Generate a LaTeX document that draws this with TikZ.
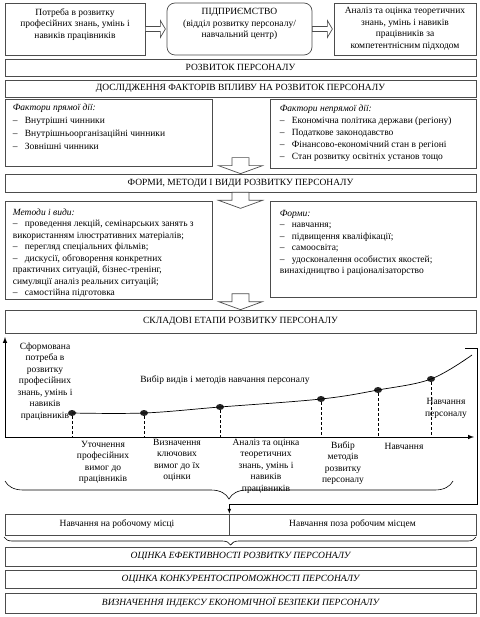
\documentclass[tikz,border=0pt]{standalone}
\usepackage{fontspec}
\setmainfont{Liberation Serif}
\usetikzlibrary{arrows, positioning, calc, shapes.geometric, decorations.pathreplacing}
\newcommand{\itm}{\makebox[12pt][l]{--}}
\newcommand{\rarrow}[1]{\draw[blockarrow] (#1) ++(0,-2.5) -- ++(15,0) -- ++(0,-6) -- ++(5,8.5) -- ++(-5,8.5) -- ++(0,-6) -- ++(-15,0) -- cycle;}
\newcommand{\darrow}[1]{\draw[blockarrow] (#1) -- ++(-22,-8) -- ++(13.5,0) -- ++(0,-8) -- ++(17,0) -- ++(0,8) -- ++(13.5,0) -- cycle;}
\begin{document}
\begin{tikzpicture}[x=1pt, y=-1pt,
  font=\fontsize{9.5}{11.5}\selectfont,
  box/.style={rectangle, draw=black!70, line width=0.7pt, fill=white, inner sep=0pt, align=center},
  band/.style={box, minimum width=471, minimum height=#1},
  listbox/.style={box, minimum width=207},
  listtext/.style={anchor=north west, inner sep=0pt, align=left},
  lbl/.style={inner sep=0pt, align=center},
  blockarrow/.style={draw=black!70, line width=0.7pt, fill=white, line join=miter},
  dot/.style={ellipse, fill=black!85, minimum width=8, minimum height=6, inner sep=0pt},
  axis/.style={->, >=latex, line width=1pt},
  curve/.style={line width=0.7pt},
  dashline/.style={line width=0.5pt, dash pattern=on 3pt off 2pt},
  connector/.style={->, >=latex, line width=0.7pt},
  curly/.style={decorate, line width=0.6pt, decoration={brace, mirror, amplitude=#1}}
]
\useasboundingbox (0,0) rectangle (479,617);
\node[box, minimum width=140, minimum height=52] (need) at (75,29) {Потреба в розвитку\\професійних знань, умінь і\\навиків працівників\\\mbox{}};
\node[box, minimum width=145, minimum height=52, rounded corners=8pt] (firm) at (239.5,29) {ПІДПРИЄМСТВО\\(відділ розвитку персоналу/\\навчальний центр)\\\mbox{}};
\node[box, minimum width=142, minimum height=52] (anal) at (405,29) {Аналіз та оцінка теоретичних\\знань, умінь і навиків\\працівників за\\компетентнісним підходом};
\rarrow{need.east}
\rarrow{firm.east}
\node[band=17] (rozv) at (240.5,67.5) {РОЗВИТОК ПЕРСОНАЛУ};
\node[band=17] (dosl) at (240.5,88.5) {ДОСЛІДЖЕННЯ ФАКТОРІВ ВПЛИВУ НА РОЗВИТОК ПЕРСОНАЛУ};
\node[listbox, minimum height=67] (direct) at (108.5,132.5) {};
\node[listtext, font=\fontsize{9.5}{13}\selectfont] (direct text) at ($(direct.north west)+(8,5)$) {\textit{Фактори прямої дії:}\\\itm Внутрішні чинники\\\itm Внутрішньоорганізаційні чинники\\\itm Зовнішні чинники};
\node[listbox, minimum width=206, minimum height=69] (indirect) at (373,133.5) {};
\node[listtext, font=\fontsize{9.5}{12}\selectfont] (indirect text) at ($(indirect.north west)+(10,6)$) {\textit{Фактори непрямої дії:}\\\itm Економічна політика держави (регіону)\\\itm Податкове законодавство\\\itm Фінансово-економічний стан в регіоні\\\itm Стан розвитку освітніх установ тощо};
\node[band=18] (formy) at (240.5,183) {ФОРМИ, МЕТОДИ І ВИДИ РОЗВИТКУ ПЕРСОНАЛУ};
\darrow{formy.north}
\node[listbox, minimum height=98] (methods) at (108.5,250) {};
\node[listtext] (methods text) at ($(methods.north west)+(8,8)$) {\textit{Методи і види:}\\\itm проведення лекцій, семінарських занять з\\використанням ілюстративних матеріалів;\\\itm перегляд спеціальних фільмів;\\\itm дискусії, обговорення конкретних\\практичних ситуацій, бізнес-тренінг,\\симуляції аналіз реальних ситуацій;\\\itm самостійна підготовка};
\node[listbox, minimum width=206, minimum height=96] (forms) at (373,249) {};
\node[listtext] (forms text) at ($(forms.north west)+(10,9)$) {\textit{Форми:}\\\itm навчання;\\\itm підвищення кваліфікації;\\\itm самоосвіта;\\\itm удосконалення особистих якостей;\\винахідництво і раціоналізаторство};
\darrow{$(formy.south)+(0,16)$}
\node[band=23] (etapy) at (240.5,321.5) {СКЛАДОВІ ЕТАПИ РОЗВИТКУ ПЕРСОНАЛУ};
\darrow{etapy.north}
\coordinate (O) at (5,437);
\coordinate (yend) at (5,337);
\coordinate (xend) at (474,437);
\draw[axis] (O) -- (yend);
\draw[axis] (O) -- (xend);
\node[dot] (d1) at (72,413) {};
\node[dot] (d2) at (144,413) {};
\node[dot] (d3) at (220,407) {};
\node[dot] (d4) at (321,399) {};
\node[dot] (d5) at (378,390) {};
\node[dot] (d6) at (431,379) {};
\coordinate (curve end) at (472,355);
\draw[curve] plot[smooth, tension=0.6] coordinates {(d1) (d2) (d3) (d4) (d5) (d6) (curve end)};
\foreach \d in {d1,d2,d3,d4,d5,d6}
  \draw[dashline] (\d) -- (\d |- O);
\node[lbl] (formed) at (45,381.5) {Сформована\\потреба в\\розвитку\\професійних\\знань, умінь і\\навиків\\працівників};
\node[lbl] (choice) at (225,380) {Вибір видів і методів навчання персоналу};
\node[lbl] (staff) at (446,408.5) {Навчання\\персоналу};
\node[lbl, anchor=north] (st1) at (103,441) {Уточнення\\професійних\\вимог до\\працівників};
\node[lbl, anchor=north] (st2) at (177,439) {Визначення\\ключових\\вимог до їх\\оцінки};
\node[lbl, anchor=north] (st3) at (266,439) {Аналіз та оцінка\\теоретичних\\знань, умінь і\\навиків\\працівників};
\node[lbl, anchor=north] (st4) at (343,441) {Вибір\\методів\\розвитку\\персоналу};
\node[lbl, anchor=north] (st5) at (404,443) {Навчання};
\coordinate (brace1 left) at (5,481);
\coordinate (brace1 right) at (453,481);
\draw[curly=18pt] (brace1 left) -- (brace1 right);
\node[box, minimum width=224, minimum height=21] (onjob) at (117,524.5) {Навчання на робочому місці};
\node[box, minimum width=247, minimum height=21] (offjob) at (352.5,524.5) {Навчання поза робочим місцем};
\coordinate (hook) at (465,348);
\coordinate (hookturn) at (477,504);
\draw[connector] (hook) -| (hookturn) -| (onjob.north east);
\coordinate (brace2 left) at (4,537);
\coordinate (brace2 right) at (476,537);
\draw[curly=8pt, decoration={aspect=0.48}] (brace2 left) -- (brace2 right);
\node[band=19, font=\fontsize{9.5}{11.5}\selectfont\itshape] (eff) at (240.5,556.5) {ОЦІНКА ЕФЕКТИВНОСТІ РОЗВИТКУ ПЕРСОНАЛУ};
\node[band=18, font=\fontsize{9.5}{11.5}\selectfont\itshape] (comp) at (240.5,579) {ОЦІНКА КОНКУРЕНТОСПРОМОЖНОСТІ ПЕРСОНАЛУ};
\node[band=20, font=\fontsize{9.5}{11.5}\selectfont\itshape] (index) at (240.5,603) {ВИЗНАЧЕННЯ ІНДЕКСУ ЕКОНОМІЧНОЇ БЕЗПЕКИ ПЕРСОНАЛУ};
\end{tikzpicture}
\end{document}
